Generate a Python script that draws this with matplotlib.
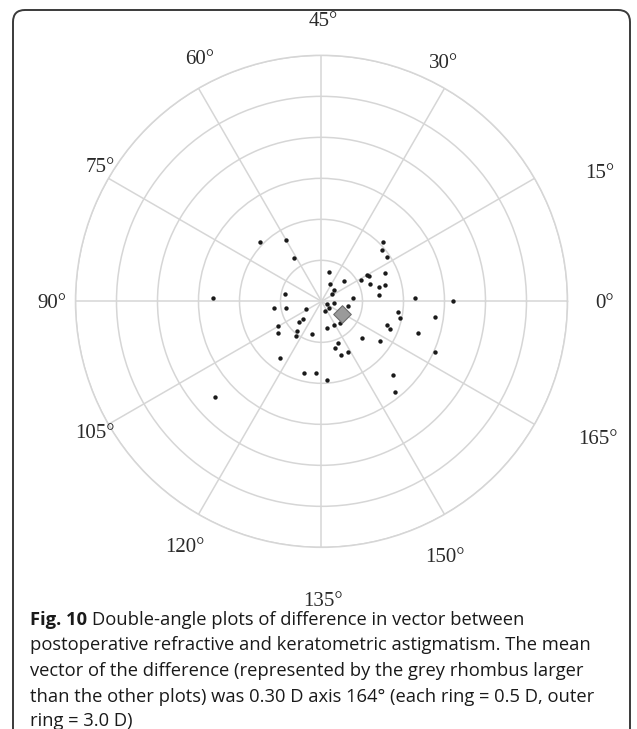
import numpy as np
import matplotlib
matplotlib.use("Agg")
import matplotlib.pyplot as plt
from matplotlib.patches import FancyBboxPatch
from matplotlib.transforms import IdentityTransform

# difference vectors: magnitude (D) and axis (deg), plotted on a double-angle plot
mag = [1.04, 0.87, 0.63, 0.45, 1.32, 0.59, 0.44, 0.21, 0.31, 0.37,
       0.61, 0.65, 0.47, 0.52, 0.41, 0.86, 0.90, 0.88, 1.75, 1.04,
       0.97, 0.96, 0.37, 0.66, 0.64, 0.85, 0.55, 0.37, 0.24, 0.63,
       0.80, 0.72, 0.21, 0.15, 0.70, 0.39, 1.14, 1.60, 0.15, 0.07,
       0.33, 0.12, 0.13, 0.94, 0.98, 1.40, 0.33, 0.32, 0.35, 0.85,
       0.90, 1.24, 0.66, 0.86, 0.55, 0.59, 0.70, 0.70, 1.51, 1.25,
       0.96, 1.43]
axis_deg = [68, 60, 61, 84, 89, 94, 95, 104, 111.5, 111,
            105, 108, 115, 117, 127, 117, 128, 133, 111, 22,
            20, 17, 38, 14, 15, 12, 14, 21, 32, 10,
            7, 7, 21, 17, 3, 3, 1, 0, 176, 166,
            175, 158, 146, 176, 174, 176, 141, 149, 155, 170,
            169, 171, 159, 163, 146, 143, 149, 145, 168, 157,
            137, 154.5]

mean_mag = 0.30
mean_axis = 164

ring_vals = [0.5, 1.0, 1.5, 2.0, 2.5, 3.0]
axis_labels = [0, 15, 30, 45, 60, 75, 90, 105, 120, 135, 150, 165]
# where each angle label sits in the picture (pixels, from top-left)
label_xy = {0: (605, 304), 15: (600, 174), 30: (443, 64), 45: (323, 21),
            60: (200, 59), 75: (100, 168), 90: (52, 304), 105: (95, 434),
            120: (185, 547), 135: (323, 601), 150: (445, 557), 165: (598, 439)}

W, H = 637, 729
fig = plt.figure(figsize=(W / 100, H / 100), dpi=100)
fig.patch.set_facecolor("white")

# rounded frame around the figure
frame = FancyBboxPatch((13, -30), 617, 729 - 10 + 30,
                       boxstyle="round,pad=0,rounding_size=12",
                       transform=IdentityTransform(), fill=False,
                       edgecolor="#3a3a3a", linewidth=1.4)
fig.patches.append(frame)

ax = fig.add_axes([0.1185, 0.2492, 0.7724, 0.6749], projection="polar")
grid_c = "#d6d6d6"

theta = np.deg2rad(2 * np.array(axis_deg, dtype=float))
ax.scatter(theta, mag, s=10, color="#1a1a1a", zorder=3, linewidths=0)
ax.scatter([np.deg2rad(2 * mean_axis)], [mean_mag], marker="D", s=80,
           color="#9a9a9a", edgecolor="#6e6e6e", linewidths=0.8, zorder=4)

ax.set_ylim(0, 3.0)
ax.set_yticks(ring_vals)
ax.set_yticklabels([])
ax.set_xticks(np.deg2rad([2 * a for a in axis_labels]))
ax.set_xticklabels([])
ax.grid(True, color=grid_c, linewidth=1.1)
ax.spines["polar"].set_color(grid_c)
ax.spines["polar"].set_linewidth(1.1)

for a in axis_labels:
    px, py = label_xy[a]
    fig.text(px / W, 1 - py / H, f"{a}\u00b0", ha="center", va="center",
             fontsize=15, family="Liberation Serif", color="#2a2a2a")

# caption
cap_font = dict(family="Open Sans", fontsize=13.2, color="#1a1a1a")
x0 = 30 / W
y_lines = [620, 645.5, 671, 696.5, 721]
t_bold = fig.text(x0, 1 - y_lines[0] / H, "Fig. 10", fontweight="bold",
                  va="center", ha="left", **cap_font)
r = fig.canvas.get_renderer()
bb = t_bold.get_window_extent(r)
fig.text((bb.x1 + 5) / W, 1 - y_lines[0] / H,
         "Double-angle plots of difference in vector between",
         va="center", ha="left", **cap_font)
rest = ["postoperative refractive and keratometric astigmatism. The mean",
        "vector of the difference (represented by the grey rhombus larger",
        "than the other plots) was 0.30 D axis 164\u00b0 (each ring = 0.5 D, outer",
        "ring = 3.0 D)"]
for yl, line in zip(y_lines[1:], rest):
    fig.text(x0, 1 - yl / H, line, va="center", ha="left", **cap_font)

fig.savefig("out.png", dpi=100)
